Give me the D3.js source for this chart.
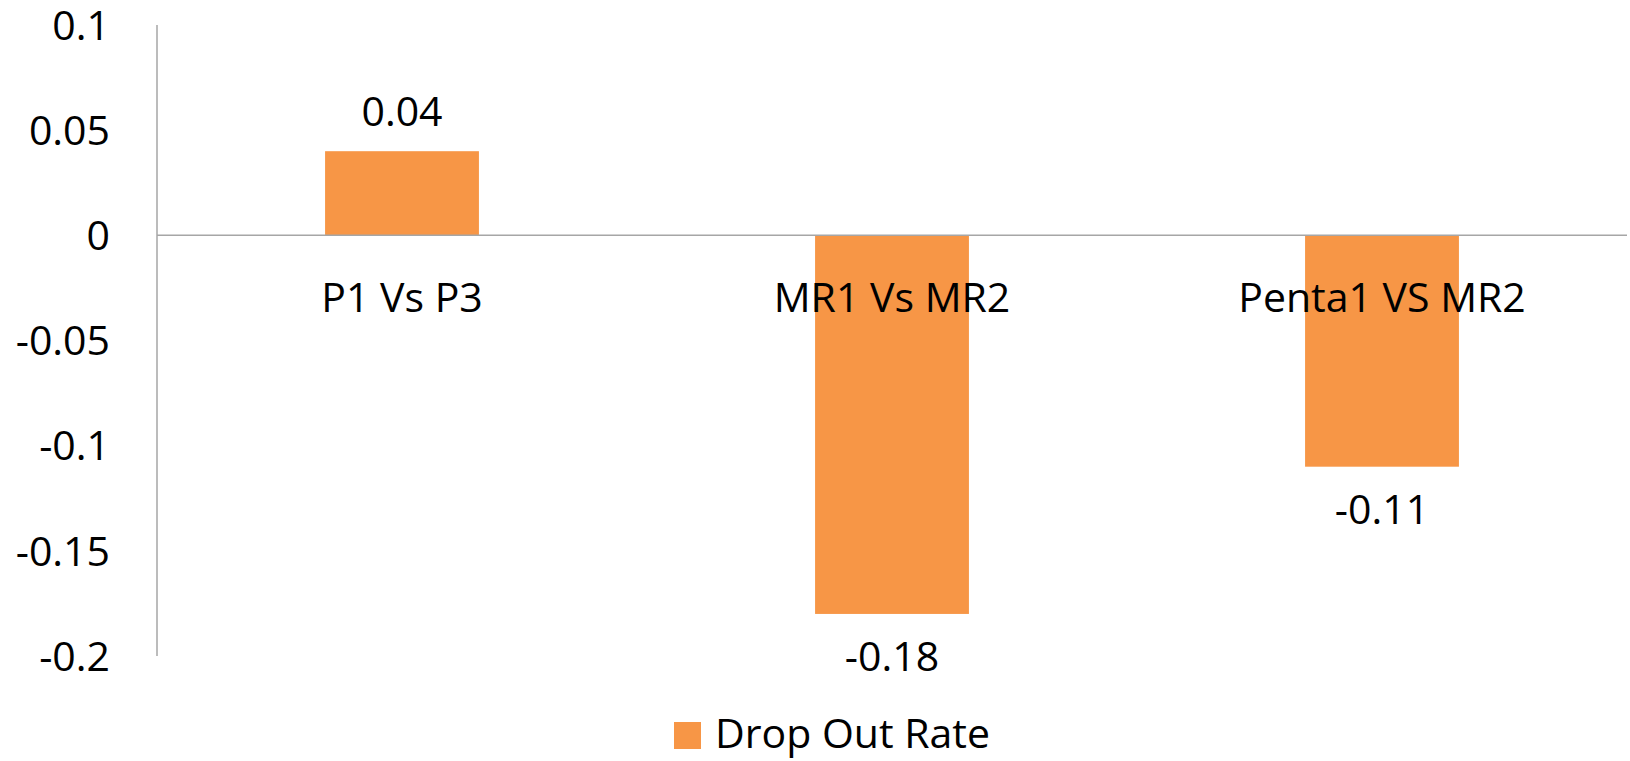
<!DOCTYPE html>
<html>
<head>
<meta charset="utf-8">
<script src="https://cdn.jsdelivr.net/npm/d3@7"></script>
<style>
  body { margin: 0; background: #fff; }
  text { font-family: "Open Sans", sans-serif; fill: #000; }
</style>
</head>
<body>
<div id="chart"></div>
<script>
// chart data
const categories = ['P1 Vs P3', 'MR1 Vs MR2', 'Penta1 VS MR2'];
const dropOutRate = [0.04, -0.18, -0.11];
const yTicks = [0.1, 0.05, 0, -0.05, -0.1, -0.15, -0.2];
const seriesName = 'Drop Out Rate';

const width = 1630, height = 761;
const plot = { left: 157, right: 1627, top: 25, bottom: 656 };
const barColor = '#F79646';
const axisColor = '#A6A6A6';
const fontSize = 41;

const svg = d3.select('#chart').append('svg')
    .attr('width', width)
    .attr('height', height);

const y = d3.scaleLinear()
    .domain([-0.2, 0.1])
    .range([plot.bottom, plot.top]);

const x = d3.scaleBand()
    .domain(categories)
    .range([plot.left, plot.right])
    .paddingInner(0.686)
    .paddingOuter(0.343);

// y tick labels (no tick marks, like excel) - plain hyphen for minus
svg.selectAll('.ytick')
    .data(yTicks)
    .enter().append('text')
    .attr('class', 'ytick')
    .attr('x', 110)
    .attr('y', d => y(d))
    .attr('dy', '0.36em')
    .attr('text-anchor', 'end')
    .style('font-size', fontSize + 'px')
    .text(d => String(d));

// bars
const data = categories.map((c, i) => ({ cat: c, val: dropOutRate[i] }));

svg.selectAll('.bar')
    .data(data)
    .enter().append('rect')
    .attr('class', 'bar')
    .attr('x', d => x(d.cat))
    .attr('width', x.bandwidth())
    .attr('y', d => Math.min(y(d.val), y(0)))
    .attr('height', d => Math.abs(y(d.val) - y(0)))
    .attr('fill', barColor);

// axes lines
svg.append('line')
    .attr('x1', plot.left).attr('x2', plot.left)
    .attr('y1', plot.top).attr('y2', plot.bottom)
    .attr('stroke', axisColor).attr('stroke-width', 1.5);

svg.append('line')
    .attr('x1', plot.left).attr('x2', plot.right)
    .attr('y1', y(0)).attr('y2', y(0))
    .attr('stroke', axisColor).attr('stroke-width', 1.5);

// category labels sit just under the zero line
svg.selectAll('.cat-label')
    .data(categories)
    .enter().append('text')
    .attr('class', 'cat-label')
    .attr('x', d => x(d) + x.bandwidth() / 2)
    .attr('y', y(0) + 77)
    .attr('text-anchor', 'middle')
    .style('font-size', fontSize + 'px')
    .text(d => d);

// value labels
svg.selectAll('.val-label')
    .data(data)
    .enter().append('text')
    .attr('class', 'val-label')
    .attr('x', d => x(d.cat) + x.bandwidth() / 2)
    .attr('y', d => d.val >= 0 ? y(d.val) - 25 : y(d.val) + 57)
    .attr('text-anchor', 'middle')
    .style('font-size', fontSize + 'px')
    .text(d => d.val);

// legend
const legend = svg.append('g').attr('transform', 'translate(674,722)');
legend.append('rect')
    .attr('width', 27).attr('height', 27)
    .attr('fill', barColor);
legend.append('text')
    .attr('x', 41)
    .attr('y', 26)
    .style('font-size', fontSize + 'px')
    .text(seriesName);
</script>
</body>
</html>
